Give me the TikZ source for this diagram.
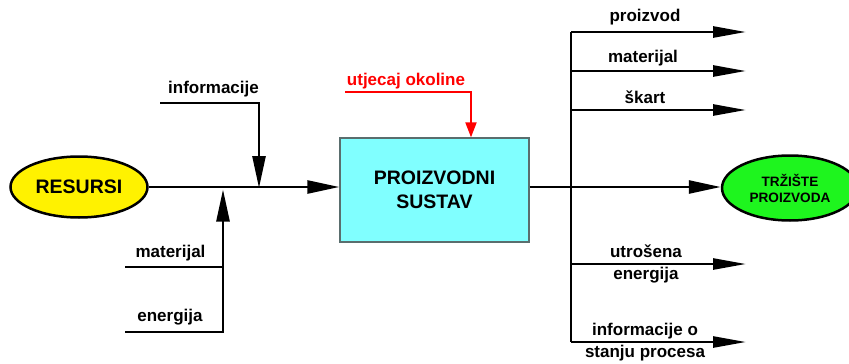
\documentclass[tikz,border=0pt]{standalone}
\usepackage{fontspec}
\setmainfont{Liberation Sans}
\usetikzlibrary{arrows.meta,shapes.geometric}
\definecolor{boxcyan}{RGB}{128,255,255}
\definecolor{mktgreen}{RGB}{30,245,30}
\definecolor{boxedge}{RGB}{90,110,110}
\begin{document}
\begin{tikzpicture}[x=1pt,y=-1pt,
  lbl/.style={font=\bfseries\fontsize{17}{22}\selectfont, inner sep=0pt, align=center},
  big/.style={font=\bfseries\fontsize{19.5}{24}\selectfont, align=center},
  wire/.style={line width=2.6pt},
  flow/.style={line width=2.6pt, -{Triangle[length=32pt,width=13pt]}},
  outflow/.style={line width=2.6pt, -{Triangle[length=33pt,width=11pt]}},
  redflow/.style={red, line width=2pt, -{Triangle[length=15pt,width=11pt]}}]
\useasboundingbox (0,0) rectangle (849,364);

% nodes
\node[ellipse, draw, line width=2.5pt, fill=yellow, minimum width=137pt, minimum height=61pt, inner sep=0pt, big] (res) at (79,187) {RESURSI};
\node[rectangle, draw=boxedge, line width=1.3pt, fill=boxcyan, minimum width=189pt, minimum height=104pt, inner sep=0pt, big] (sys) at (434.5,190) {PROIZVODNI\\SUSTAV};
\node[ellipse, draw, line width=2.5pt, fill=mktgreen, minimum width=136pt, minimum height=65pt, inner sep=0pt, align=center, font=\bfseries\fontsize{13.6}{16}\selectfont] (mkt) at (790,188) {TRŽIŠTE\\PROIZVODA};

% labels
\node[lbl] (tinf) at (213.5,89) {informacije};
\node[lbl] (tmat) at (170.5,253) {materijal};
\node[lbl] (tene) at (170,317) {energija};
\node[lbl, red] (tutj) at (406,81) {utjecaj okoline};
\node[lbl] (tpro) at (645,17) {proizvod};
\node[lbl] (tmat2) at (643,58) {materijal};
\node[lbl] (tska) at (645,97) {škart};
\node[lbl] (tutr) at (646,264) {utrošena\\energija};
\node[lbl] (tinfo) at (645,342) {informacije o\\stanju procesa};

% coordinates
\coordinate (ji) at (259,187);
\coordinate (jm) at (223,189.5);
\coordinate (i0) at (160,103);
\coordinate (m0) at (125,267);
\coordinate (e0) at (125,332);
\coordinate (u0) at (345,92);
\coordinate (uk) at (471,92);
\coordinate (bus) at (571,187);
\coordinate (b1) at (571,32);
\coordinate (b2) at (571,71);
\coordinate (b3) at (571,110);
\coordinate (b4) at (571,264);
\coordinate (b5) at (571,342);
\coordinate (a1) at (746,32);
\coordinate (a2) at (746,71);
\coordinate (a3) at (746,110);
\coordinate (a4) at (746,264);
\coordinate (a5) at (746,342);

% left inputs
\draw[flow] (res.east |- ji) -- (ji -| sys.west);
\draw[flow] (i0) -- (i0 -| ji) -- ([yshift=-1pt]ji);
\draw[wire] (m0) -- (m0 -| jm);
\draw[flow] (e0) -- (e0 -| jm) -- (jm);

% environment
\draw[redflow] (u0) -- (uk) -- (uk |- sys.north);

% right outputs
\draw[flow] (bus -| sys.east) -- (mkt.west |- bus);
\draw[wire] (b1) -- (b5);
\draw[outflow] (b1) -- (a1);
\draw[outflow] (b2) -- (a2);
\draw[outflow] (b3) -- (a3);
\draw[outflow] (b4) -- (a4);
\draw[outflow] (b5) -- (a5);
\end{tikzpicture}
\end{document}
